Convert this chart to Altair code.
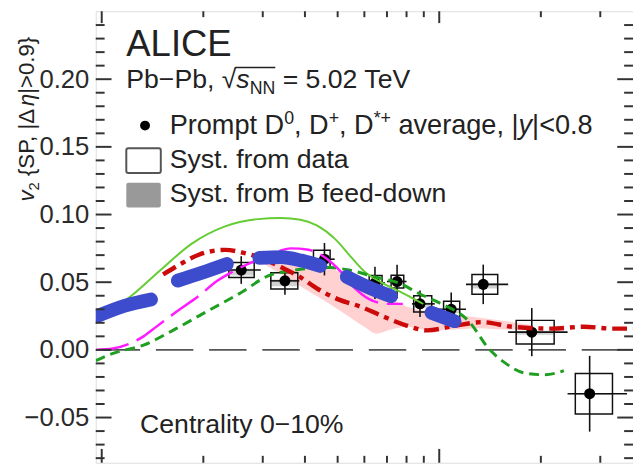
import altair as alt
import pandas as pd

# ---------------- data points (prompt D average) ----------------
pt = [2.59, 3.49, 4.57, 6.45, 7.5, 8.77, 10.85, 13.5, 18.8, 27.9]
v2 = [0.059, 0.051, 0.067, 0.0495, 0.0505, 0.034, 0.030, 0.0484, 0.0131, -0.0324]
stat = [0.0102, 0.0102, 0.012, 0.012, 0.0124, 0.0098, 0.0124, 0.0146, 0.0178, 0.028]
syst = [0.0055, 0.006, 0.0066, 0.0055, 0.0047, 0.006, 0.006, 0.0073, 0.0087, 0.0149]
box_lo = [2.38, 3.17, 4.24, 6.2, 7.2, 8.4, 10.3, 12.5, 16.9, 25.3]
box_hi = [2.83, 3.81, 4.75, 6.77, 7.85, 9.5, 11.5, 14.9, 21.9, 32.6]
bin_lo = [2.22, 3.15, 4.2, 6.1, 7.0, 8.3, 9.6, 12.0, 16.0, 24.0]
bin_hi = [2.96, 3.85, 4.9, 6.9, 8.0, 9.7, 12.0, 16.0, 24.0, 36.0]
fd_lo = [0.004, 0.004, 0.004, 0.0035, 0.003, 0.003, 0.003, 0.003, 0.002, 0.001]
fd_hi = [0.001, 0.001, 0.001, 0.001, 0.001, 0.001, 0.001, 0.001, 0.001, 0.0005]

# ---------------- model curves ----------------
gs_pt = [0.96, 1.24, 1.48, 1.85, 2.32, 2.90, 3.39, 3.88, 4.35, 4.91, 5.50, 6.0, 6.73, 7.6, 8.97]
gs_v2 = [0.021, 0.0411, 0.0581, 0.0785, 0.0912, 0.0966, 0.0975, 0.0962, 0.0918, 0.0820,
         0.0681, 0.0579, 0.0499, 0.0434, 0.0339]

gd_pt = [0.96, 1.08, 1.33, 1.66, 2.07, 2.59, 3.10, 3.75, 4.6, 5.4, 6.54, 7.5, 8.8, 9.9,
         12.3, 14.0, 15.7, 17.9, 20.5, 23.4]
gd_v2 = [-0.008, -0.0026, 0.0035, 0.0157, 0.029, 0.0424, 0.0545, 0.059, 0.061, 0.059,
         0.0535, 0.0499, 0.0411, 0.0353, 0.0205, 0.0011, -0.0098, -0.0171, -0.0184, -0.0154]

mg_pt = [0.96, 1.08, 1.33, 1.45, 1.66, 1.92, 2.2, 2.45, 2.8, 3.2, 3.63, 4.1, 4.6, 5.1,
         5.6, 6.2, 7.0, 7.8]
mg_v2 = [0.0, 0.001, 0.010, 0.017, 0.028, 0.039, 0.051, 0.058, 0.065, 0.071, 0.075,
         0.074, 0.068, 0.058, 0.046, 0.0375, 0.034, 0.034]

rd_pt = [1.52, 1.70, 1.94, 2.32, 2.65, 2.96, 3.43, 3.83, 4.38, 5.0, 5.88, 6.73, 8.0,
         9.2, 11.2, 13.4, 16.4, 21.6, 26.8, 32.7, 37.5]
rd_v2 = [0.0557, 0.063, 0.0703, 0.0739, 0.0715, 0.068, 0.0606, 0.0545, 0.0448, 0.0375,
         0.0317, 0.0253, 0.018, 0.0144, 0.018, 0.0205, 0.0171, 0.0157, 0.0171, 0.0157, 0.0157]

pk_pt = [2.9, 3.4, 4.0, 4.6, 5.3, 6.0, 6.5, 7.2, 8.0, 9.5, 11.0, 13.0, 16.0, 19.0]
pk_lo = [0.066, 0.056, 0.045, 0.036, 0.026, 0.017, 0.012, 0.015, 0.017, 0.014, 0.015,
         0.016, 0.015, 0.015]
pk_hi = [0.070, 0.068, 0.066, 0.062, 0.055, 0.047, 0.043, 0.038, 0.032, 0.028, 0.026,
         0.024, 0.021, 0.018]

bl_pt = [0.96, 1.17, 1.40, 1.68, 1.98, 2.35, 2.93, 3.4, 3.9, 4.44, 5.32, 6.2, 7.2, 9.48, 11.1]
bl_v2 = [0.0245, 0.0326, 0.0372, 0.0512, 0.057, 0.0635, 0.068, 0.0685, 0.066, 0.062,
         0.054, 0.046, 0.0396, 0.0275, 0.0212]
bl_seg = [1, 1, 1, 2, 2, 2, 3, 3, 3, 3, 4, 4, 4, 5, 5]

# ---------------- axis ticks ----------------
y_labels = [-0.05, 0.0, 0.05, 0.10, 0.15, 0.20]
y_minor = [-0.08, -0.07, -0.06, -0.04, -0.03, -0.02, -0.01, 0.01, 0.02, 0.03, 0.04,
           0.06, 0.07, 0.08, 0.09, 0.11, 0.12, 0.13, 0.14, 0.16, 0.17, 0.18, 0.19,
           0.21, 0.22, 0.23, 0.24]
x_major = [1, 10]
x_minor = [2, 3, 4, 5, 6, 7, 8, 9, 20, 30]

# ---------------- texts ----------------
ALICE = "ALICE"
SYST_DATA = "Syst. from data"
SYST_FD = "Syst. from B feed-down"
CENT = "Centrality 0\u221210%"

W, H = 545, 458
FONT = "Liberation Sans"
TXT = "#222222"
AX = "#333333"

XS = alt.Scale(type="log", domain=[0.96, 37.5], nice=False)
YS = alt.Scale(domain=[-0.0834, 0.2502], nice=False, zero=False)
YAX = alt.Axis(values=y_labels, format=".2f", labelFontSize=26, labelFont=FONT,
               labelColor="#2a2a2a", tickSize=0, domain=False, grid=False,
               labelPadding=7, title=None)


def X(f):
    return alt.X(f"{f}:Q", scale=XS, axis=None)


def Y(f):
    return alt.Y(f"{f}:Q", scale=YS, axis=YAX)


pts = pd.DataFrame({"pt": pt, "v2": v2, "stat": stat, "syst": syst,
                    "blo": box_lo, "bhi": box_hi, "hlo": bin_lo, "hhi": bin_hi,
                    "fdl": fd_lo, "fdh": fd_hi})
pts["elo"] = pts.v2 - pts.stat
pts["ehi"] = pts.v2 + pts.stat
pts["slo"] = pts.v2 - pts.syst
pts["shi"] = pts.v2 + pts.syst
pts["flo"] = pts.v2 - pts.fdl
pts["fhi"] = pts.v2 + pts.fdh

base = alt.Chart(pts)
layers = []

# pink band
pk = pd.DataFrame({"pt": pk_pt, "lo": pk_lo, "hi": pk_hi})
layers.append(alt.Chart(pk).mark_area(color="#ff9a9a", opacity=0.45, interpolate="monotone",
                                      clip=True)
              .encode(x=X("pt"), y=Y("lo"), y2=alt.Y2("hi")))

# zero line
layers.append(alt.Chart(pd.DataFrame({"z": [0.0]})).mark_rule(
    color="#555555", strokeWidth=1.6, strokeDash=[38, 16], strokeDashOffset=47)
    .encode(y=Y("z"), x=alt.value(0), x2=alt.value(W)))

# data
layers.append(base.mark_rect(color="#9a9a9a", opacity=0.45)
              .encode(x=X("blo"), x2=alt.X2("bhi"), y=Y("flo"), y2=alt.Y2("fhi")))
layers.append(base.mark_rect(fillOpacity=0, stroke="#111111", strokeWidth=1.5)
              .encode(x=X("blo"), x2=alt.X2("bhi"), y=Y("slo"), y2=alt.Y2("shi")))
layers.append(base.mark_rule(color="#111111", strokeWidth=1.6)
              .encode(x=X("pt"), y=Y("elo"), y2=alt.Y2("ehi")))
layers.append(base.mark_rule(color="#111111", strokeWidth=1.6)
              .encode(x=X("hlo"), x2=alt.X2("hhi"), y=Y("v2")))
layers.append(base.mark_circle(color="#000000", opacity=1, size=125)
              .encode(x=X("pt"), y=Y("v2")))

# models


def curve(xs, ys, **kw):
    d = pd.DataFrame({"pt": xs, "v": ys})
    return alt.Chart(d).mark_line(interpolate="monotone", clip=True, **kw).encode(
        x=X("pt"), y=Y("v"))


layers.append(curve(gs_pt, gs_v2, color="#66cc33", strokeWidth=2))
layers.append(curve(gd_pt, gd_v2, color="#1f9f1f", strokeWidth=3, strokeDash=[10, 6]))
layers.append(curve(mg_pt, mg_v2, color="#ff1aff", strokeWidth=2.5, strokeDash=[34, 9]))
layers.append(curve(rd_pt, rd_v2, color="#cc0a0a", strokeWidth=4.5,
                    strokeDash=[15, 6, 5, 6]))

bl = pd.DataFrame({"pt": bl_pt, "v": bl_v2, "seg": bl_seg})
layers.append(alt.Chart(bl).mark_line(interpolate="monotone", clip=True, color="#3d4ccc",
                                      strokeWidth=14, strokeCap="round", strokeJoin="round")
              .encode(x=X("pt"), y=Y("v"), detail="seg:N"))

# inward ticks


def yticks(vals, length, right=False):
    d = pd.DataFrame({"v": vals})
    if right:
        xa, xb = W - length, W
    else:
        xa, xb = 0, length
    return alt.Chart(d).mark_rule(color=AX, strokeWidth=2).encode(
        y=Y("v"), x=alt.value(xa), x2=alt.value(xb))


def xticks(vals, length, bottom=False):
    d = pd.DataFrame({"v": vals})
    if bottom:
        ya, yb = H - length, H
    else:
        ya, yb = 0, length
    return alt.Chart(d).mark_rule(color=AX, strokeWidth=2).encode(
        x=X("v"), y=alt.value(ya), y2=alt.value(yb))


layers += [yticks(y_labels, 16), yticks(y_minor, 9),
           yticks(y_labels, 16, True), yticks(y_minor, 9, True),
           xticks(x_major, 12), xticks(x_minor, 6),
           xticks(x_major, 14, True), xticks(x_minor, 7, True)]

# ---------------- annotations ----------------
WID = {' ': 278, '%': 889, '*': 389, '+': 584, ',': 278, '-': 333, '.': 278, '<': 584,
       '=': 584, '>': 584, '{': 334, '}': 334, '|': 260, '\u2212': 584, '\u221a': 549,
       '\u0394': 668, '\u03b7': 556, 'A': 667, 'B': 667, 'C': 722, 'D': 722, 'E': 667,
       'I': 278, 'L': 556, 'N': 722, 'P': 667, 'S': 667, 'T': 611, 'V': 667, 'a': 556,
       'b': 556, 'd': 556, 'e': 556, 'f': 278, 'g': 556, 'i': 222, 'l': 222, 'm': 833,
       'n': 556, 'o': 556, 'p': 556, 'r': 333, 's': 500, 't': 278, 'v': 500, 'w': 722,
       'y': 500}


def width(t, size):
    return sum(WID.get(c, 556) for c in t) * size / 1000.0


def txt(t, x, y, size, style="normal", angle=0, weight="normal"):
    return alt.Chart(pd.DataFrame({"t": [t]})).mark_text(
        align="left", baseline="alphabetic", font=FONT, fontSize=size, fontStyle=style,
        fontWeight=weight, color=TXT, angle=angle).encode(
        x=alt.value(x), y=alt.value(y), text=alt.value(t))


def row(pieces, x0, y0):
    out = []
    x = x0
    for t, size, style, dy in pieces:
        lead = len(t) - len(t.lstrip(" "))
        xs = x + width(" " * lead, size)
        out.append(txt(t.strip(" "), xs, y0 + dy, size, style))
        x += width(t, size)
    return out, x


layers.append(txt(ALICE, 31, 45, 37))

pb_pieces = [("Pb\u2212Pb, ", 27, "normal", 0), ("\u221a", 27, "normal", 0),
             ("s", 27, "italic", 0), ("NN", 18, "normal", 6),
             (" = 5.02 TeV", 27, "normal", 0)]
pb_layers, _ = row(pb_pieces, 31, 78)
layers += pb_layers
sq_x0 = 31 + width("Pb\u2212Pb, \u221a", 27) - 1
sq_x1 = 31 + width("Pb\u2212Pb, \u221as", 27) + width("NN", 18)
layers.append(alt.Chart(pd.DataFrame({"a": [0]})).mark_rule(color=TXT, strokeWidth=1.6)
              .encode(x=alt.value(sq_x0), x2=alt.value(sq_x1), y=alt.value(57)))

pr_pieces = [("Prompt D", 27.5, "normal", 0), ("0", 18, "normal", -11),
             (", D", 27.5, "normal", 0), ("+", 18, "normal", -11),
             (", D", 27.5, "normal", 0), ("*+", 18, "normal", -11),
             (" average, |", 27.5, "normal", 0), ("y", 27.5, "italic", 0),
             ("|<0.8", 27.5, "normal", 0)]
pr_layers, _ = row(pr_pieces, 75, 125)
layers += pr_layers

layers.append(alt.Chart(pd.DataFrame({"a": [0]})).mark_circle(color="#000000", opacity=1,
                                                              size=100)
              .encode(x=alt.value(50), y=alt.value(116)))
layers.append(alt.Chart(pd.DataFrame({"a": [0]})).mark_rect(
    fillOpacity=0, stroke="#555555", strokeWidth=2, cornerRadius=2)
    .encode(x=alt.value(31), x2=alt.value(66), y=alt.value(139), y2=alt.value(164)))
layers.append(alt.Chart(pd.DataFrame({"a": [0]})).mark_rect(
    color="#999999", cornerRadius=2)
    .encode(x=alt.value(31), x2=alt.value(66), y=alt.value(174), y2=alt.value(199)))
layers.append(txt(SYST_DATA, 75, 159, 27))
layers.append(txt(SYST_FD, 75, 194, 27))
layers.append(txt(CENT, 45, 428, 27))

# rotated y title: v2 {SP, |Δη|>0.9}
title_pieces = [("v", 22.5, "italic", 0), ("2", 15, "normal", 5),
                (" {SP, |\u0394", 22.5, "normal", 0), ("\u03b7", 22.5, "italic", 0),
                ("|>0.9}", 22.5, "normal", 0)]
yy = 193
for t, size, style, dx in title_pieces:
    lead = len(t) - len(t.lstrip(" "))
    layers.append(txt(t.strip(" "), -63 + dx, yy - width(" " * lead, size), size, style,
                      angle=270))
    yy -= width(t, size)

chart = alt.layer(*layers).properties(
    width=W, height=H,
    autosize=alt.AutoSizeParams(type="none"),
    padding={"left": 89, "top": 0, "right": 0, "bottom": 0},
).configure_view(stroke=AX, strokeWidth=2.5).configure(background="white")

chart.save("out.html", embed_options={"renderer": "svg", "actions": False})
